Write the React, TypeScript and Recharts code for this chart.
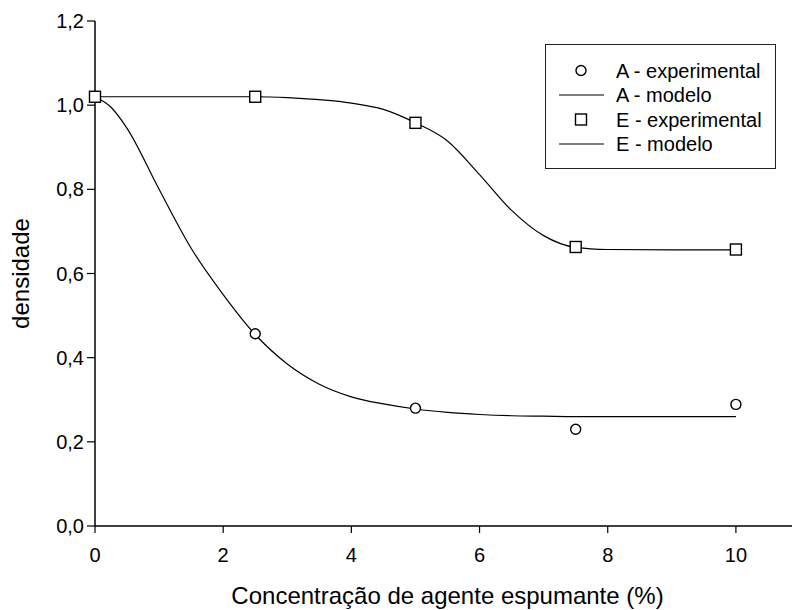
import {
  ComposedChart,
  Line,
  Scatter,
  XAxis,
  YAxis,
  Legend,
  Label,
} from 'recharts';

// experimental points
const xExp = [0, 2.5, 5, 7.5, 10];
const aExp = [1.02, 0.457, 0.28, 0.23, 0.289];
const eExp = [1.02, 1.02, 0.958, 0.663, 0.657];

// fitted model curves, sampled from the figure
const xModel = [0, 0.25, 0.5, 1, 1.5, 2, 2.5, 3, 3.5, 4, 4.5, 5, 5.5, 6, 6.5, 7, 7.5, 8, 9, 10];
const aModel = [1.02, 0.995, 0.945, 0.8, 0.66, 0.55, 0.455, 0.385, 0.337, 0.307, 0.29, 0.278, 0.27, 0.265, 0.262, 0.261, 0.26, 0.26, 0.26, 0.26];
const eModel = [1.02, 1.02, 1.02, 1.02, 1.02, 1.02, 1.02, 1.018, 1.013, 1.005, 0.99, 0.958, 0.915, 0.835, 0.75, 0.69, 0.662, 0.657, 0.656, 0.656];

const xTicks = [0, 2, 4, 6, 8, 10];
const yTicks = [0, 0.2, 0.4, 0.6, 0.8, 1.0, 1.2];

const FONT = '"Liberation Sans", Arial, sans-serif';

const aExpData = xExp.map((x, i) => ({ x, y: aExp[i] }));
const eExpData = xExp.map((x, i) => ({ x, y: eExp[i] }));
const aModelData = xModel.map((x, i) => ({ x, y: aModel[i] }));
const eModelData = xModel.map((x, i) => ({ x, y: eModel[i] }));

const fmt = (v: number) => v.toFixed(1).replace('.', ',');

function CircleDot(props: any) {
  const { cx, cy } = props;
  if (cx == null || cy == null) return null;
  return <circle cx={cx} cy={cy} r={5} fill="#fff" stroke="#000" strokeWidth={1.4} />;
}

function SquareDot(props: any) {
  const { cx, cy } = props;
  if (cx == null || cy == null) return null;
  return <rect x={cx - 5.5} y={cy - 5.5} width={11} height={11} fill="#fff" stroke="#000" strokeWidth={1.4} />;
}

function LegendBox() {
  const rows = [
    { label: 'A - experimental', kind: 'circle' },
    { label: 'A - modelo', kind: 'line' },
    { label: 'E - experimental', kind: 'square' },
    { label: 'E - modelo', kind: 'line' },
  ];
  return (
    <svg width={231} height={125} style={{ display: 'block' }}>
      <rect x={0.5} y={0.5} width={230} height={124} fill="#fff" stroke="#222" strokeWidth={1} />
      {rows.map((r, i) => {
        const cy = 26.5 + i * 24.5;
        return (
          <g key={r.label}>
            {r.kind === 'circle' && <circle cx={36} cy={cy} r={5} fill="#fff" stroke="#000" strokeWidth={1.4} />}
            {r.kind === 'square' && (
              <rect x={30.5} y={cy - 5.5} width={11} height={11} fill="#fff" stroke="#000" strokeWidth={1.4} />
            )}
            {r.kind === 'line' && <line x1={14} x2={59} y1={cy} y2={cy} stroke="#000" strokeWidth={1.2} />}
            <text x={71} y={cy + 7} fontSize={20} fontFamily={FONT} fill="#000">
              {r.label}
            </text>
          </g>
        );
      })}
    </svg>
  );
}

function YTitle(props: any) {
  const vb = props.viewBox || { x: 0, y: 21, width: 95, height: 505 };
  const x = vb.x + 29;
  const y = vb.y + vb.height / 2;
  return (
    <text
      x={x}
      y={y}
      transform={`rotate(-90, ${x}, ${y})`}
      textAnchor="middle"
      fontSize={24}
      fontFamily={FONT}
      fill="#000"
    >
      densidade
    </text>
  );
}

function XTitle(props: any) {
  const vb = props.viewBox || { x: 95, y: 526, width: 705, height: 84 };
  return (
    <text
      x={vb.x + vb.width / 2}
      y={vb.y + 78}
      textAnchor="middle"
      fontSize={24}
      fontFamily={FONT}
      fill="#000"
    >
      Concentração de agente espumante (%)
    </text>
  );
}

export default function App() {
  return (
    <div
      style={{
        position: 'fixed',
        left: 0,
        top: 0,
        width: 792,
        height: 610,
        overflow: 'hidden',
        background: '#fff',
      }}
    >
      <ComposedChart width={800} height={610} margin={{ top: 21, right: 0, bottom: 0, left: 0 }}>
        <XAxis
          type="number"
          dataKey="x"
          domain={[0, 11]}
          ticks={xTicks}
          height={84}
          tickSize={7}
          tickMargin={15}
          axisLine={{ stroke: '#000', strokeWidth: 1.5 }}
          tickLine={{ stroke: '#000', strokeWidth: 1.2 }}
          tick={{ fill: '#000', fontSize: 20, fontFamily: FONT }}
          allowDuplicatedCategory={false}
        >
          <Label content={<XTitle />} />
        </XAxis>
        <YAxis
          type="number"
          dataKey="y"
          domain={[0, 1.2]}
          ticks={yTicks}
          width={95}
          tickSize={8}
          tickMargin={3}
          tickFormatter={fmt}
          axisLine={{ stroke: '#000', strokeWidth: 1.5 }}
          tickLine={{ stroke: '#000', strokeWidth: 1.2 }}
          tick={{ fill: '#000', fontSize: 20, fontFamily: FONT }}
        >
          <Label content={<YTitle />} />
        </YAxis>
        <Line
          data={aModelData}
          dataKey="y"
          type="monotone"
          stroke="#000"
          strokeWidth={1.2}
          dot={false}
          activeDot={false}
          isAnimationActive={false}
          name="A - modelo"
        />
        <Line
          data={eModelData}
          dataKey="y"
          type="monotone"
          stroke="#000"
          strokeWidth={1.2}
          dot={false}
          activeDot={false}
          isAnimationActive={false}
          name="E - modelo"
        />
        <Scatter data={aExpData} dataKey="y" shape={<CircleDot />} isAnimationActive={false} name="A - experimental" />
        <Scatter data={eExpData} dataKey="y" shape={<SquareDot />} isAnimationActive={false} name="E - experimental" />
        <Legend
          layout="vertical"
          align="center"
          verticalAlign="middle"
          content={<LegendBox />}
          wrapperStyle={{ left: 545, top: 44, width: 231, height: 125 }}
        />
      </ComposedChart>
    </div>
  );
}
